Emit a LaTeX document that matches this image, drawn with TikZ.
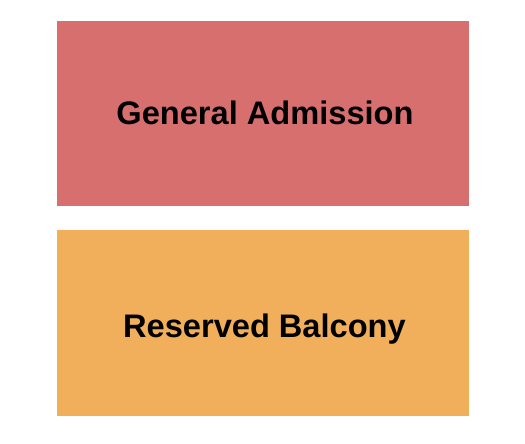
\documentclass[tikz,border=0pt]{standalone}
\usepackage{fontspec}
\setmainfont{Liberation Sans}
\definecolor{garea}{HTML}{D76F6F}
\definecolor{barea}{HTML}{F2AF5B}
\begin{document}
\begin{tikzpicture}[x=1pt,y=-1pt,
  sect/.style={inner sep=0pt, outer sep=0pt, minimum width=412pt},
  lbl/.style={font=\bfseries\fontsize{32.6}{36}\selectfont, text=black}]
\useasboundingbox (0,0) rectangle (525,444);
\fill[white] (0,0) rectangle (525,444);
\node[sect, fill=garea, minimum height=185pt] (ga) at (263,113.5) {};
\node[sect, fill=barea, minimum height=186pt] (rb) at (263,323) {};
\node[lbl] (gat) at (265,113) {General Admission};
\node[lbl] (rbt) at (264.5,329.5) {Reserved Balcony};
\end{tikzpicture}
\end{document}
